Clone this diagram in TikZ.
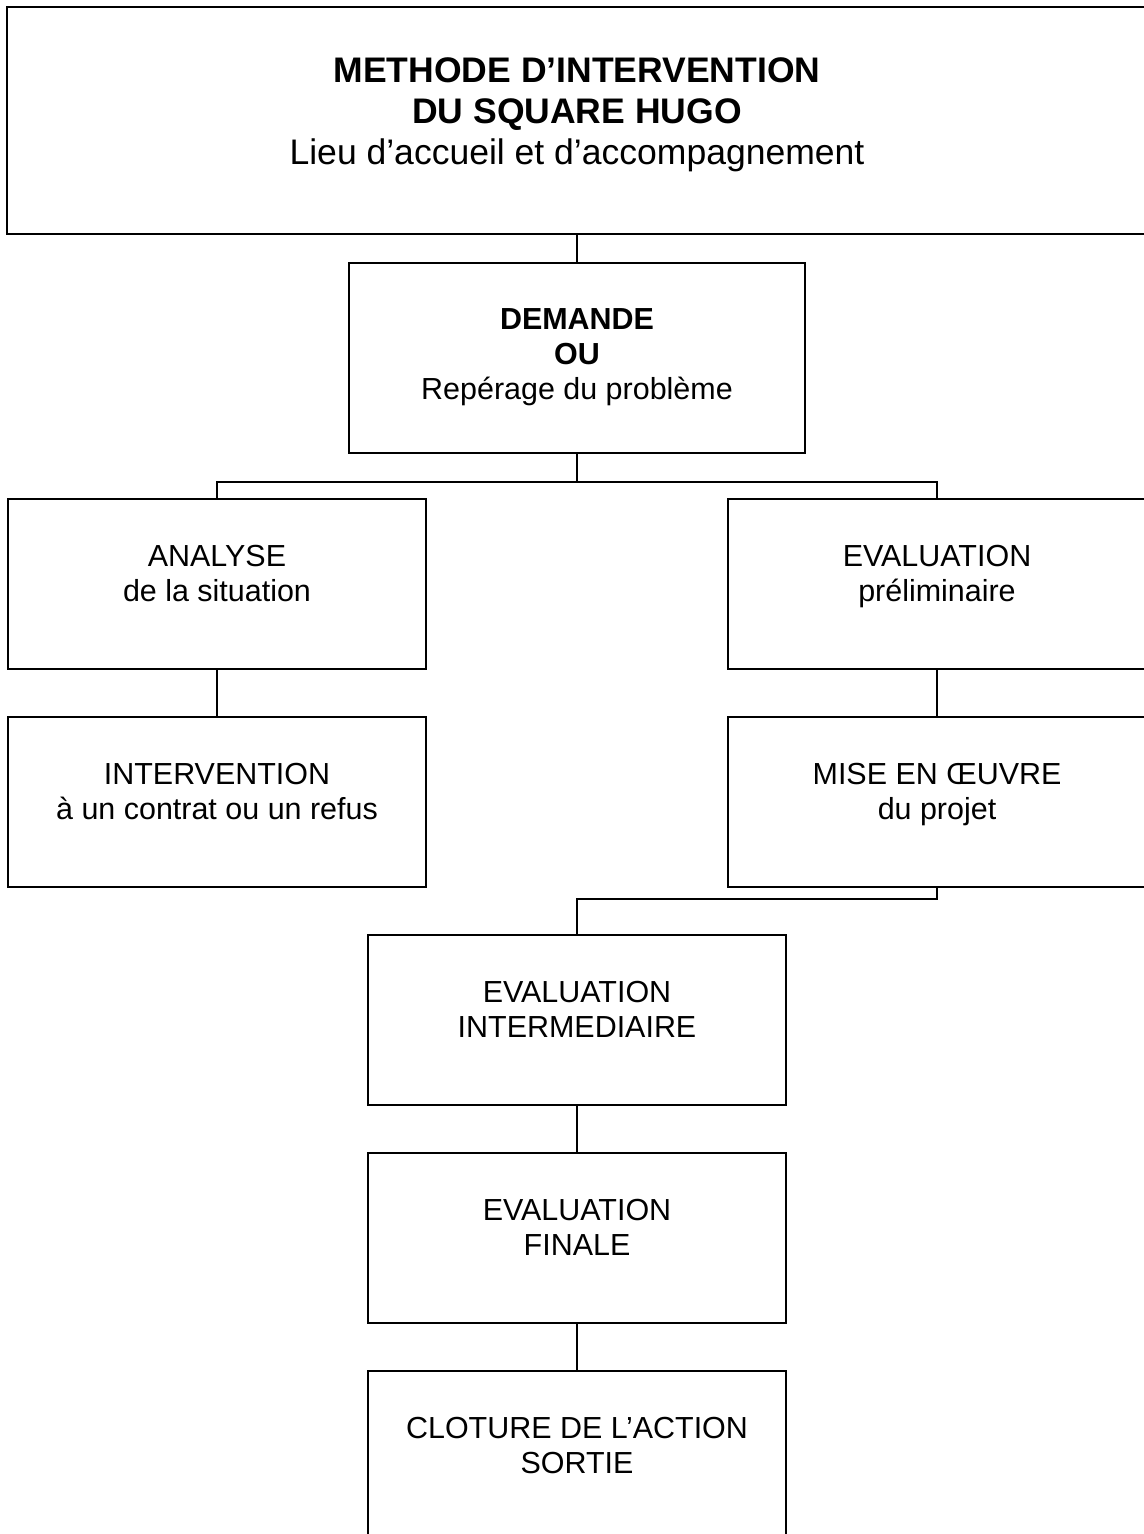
\documentclass[tikz,border=0pt]{standalone}
\usepackage{fontspec}
\setmainfont{Liberation Sans}

\begin{document}
\begin{tikzpicture}[x=0.394pt,y=-0.394pt,
  box/.style={draw,line width=0.8pt,inner sep=0pt,minimum width=164.7pt,minimum height=67pt},
  txt/.style={align=center,inner sep=0pt,anchor=north,label distance=-18.5pt,font=\fontsize{12pt}{13.8pt}\selectfont},
  link/.style={line width=0.6pt}]
  \useasboundingbox (0,0) rectangle (1143,1534);
  \node[box,minimum width=448.8pt,minimum height=89.4pt,
    label={[txt,label distance=-20.3pt,font=\fontsize{14pt}{16.1pt}\selectfont]north:{\textbf{METHODE D’INTERVENTION}\\\textbf{DU SQUARE HUGO}\\Lieu d’accueil et d’accompagnement}}] (titre) at (577,120.5) {};
  \node[box,minimum width=179.3pt,minimum height=74.9pt,
    label={[txt,label distance=-18.1pt]north:{\textbf{DEMANDE}\\\textbf{OU}\\Repérage du problème}}] (demande) at (577,358) {};
  \node[box,label={[txt]north:{ANALYSE\\de la situation}}] (analyse) at (217,584) {};
  \node[box,label={[txt]north:{EVALUATION\\préliminaire}}] (prelim) at (937,584) {};
  \node[box,label={[txt]north:{INTERVENTION\\à un contrat ou un refus}}] (intervention) at (217,802) {};
  \node[box,label={[txt]north:{MISE EN ŒUVRE\\du projet}}] (oeuvre) at (937,802) {};
  \node[box,label={[txt]north:{EVALUATION\\INTERMEDIAIRE}}] (intermediaire) at (577,1020) {};
  \node[box,label={[txt]north:{EVALUATION\\FINALE}}] (finale) at (577,1238) {};
  \node[box,label={[txt]north:{CLOTURE DE L’ACTION\\SORTIE}}] (cloture) at (577,1456) {};
  % liaisons
  \draw[link] (titre.south) -- (demande.north);
  \draw[link] (demande.south) -- ++(0,28) -| (analyse.north);
  \draw[link] (demande.south) -- ++(0,28) -| (prelim.north);
  \draw[link] (analyse) -- (intervention);
  \draw[link] (prelim) -- (oeuvre);
  \draw[link] (oeuvre.south) -- ++(0,11) -| (intermediaire.north);
  \draw[link] (intermediaire) -- (finale);
  \draw[link] (finale) -- (cloture);
\end{tikzpicture}
\end{document}
